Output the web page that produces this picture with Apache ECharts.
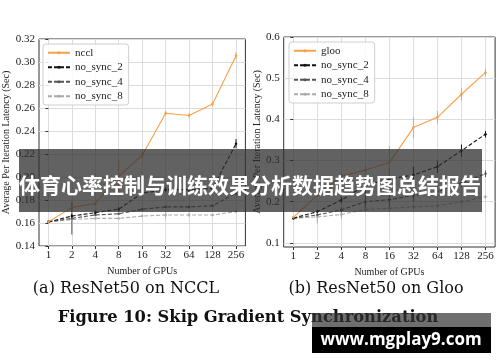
<!DOCTYPE html>
<html>
<head>
<meta charset="utf-8">
<script src="https://cdn.jsdelivr.net/npm/echarts@6/dist/echarts.min.js"></script>
<style>
html,body{margin:0;padding:0;background:#fff;}
#c{width:500px;height:362px;}
</style>
</head>
<body>
<div id="c"></div>
<script>
// ---- data ----
const gpuTicks = [1, 2, 4, 8, 16, 32, 64, 128, 256];
const ncclGpus = [1, 2, 4, 8, 16, 32, 64, 128, 256];
const ncclBase = [0.161, 0.1735, 0.177, 0.2005, 0.219, 0.2555, 0.2535, 0.2635, 0.3055];
const ncclNoSync2 = [0.161, 0.166, 0.169, 0.172, 0.186, 0.189, 0.189, 0.190, 0.229];
const ncclNoSync4 = [0.161, 0.164, 0.167, 0.168, 0.172, 0.174, 0.174, 0.175, 0.186];
const ncclNoSync8 = [0.161, 0.163, 0.164, 0.164, 0.166, 0.167, 0.167, 0.167, 0.170];
const ncclBaseErr = [0, 0.002, 0.002, 0.014, 0.003, 0.002, 0.002, 0.002, 0.003];
const ncclNoSync2Err = [0, 0.002, 0.002, 0.002, 0.002, 0.002, 0.002, 0.002, 0.004];
const ncclNoSync4Err = [0, 0.014, 0, 0, 0, 0, 0, 0, 0.002];
const ncclNoSync8Err = [0, 0, 0, 0, 0, 0.003, 0.002, 0, 0];

const glooGpus = [1, 2, 4, 8, 16, 32, 64, 128, 256];
const glooBase = [0.162, 0.216, 0.262, 0.277, 0.295, 0.380, 0.405, 0.461, 0.514];
const glooNoSync2 = [0.160, 0.176, 0.204, 0.240, 0.255, 0.265, 0.285, 0.324, 0.364];
const glooNoSync4 = [0.160, 0.168, 0.180, 0.200, 0.205, 0.215, 0.225, 0.245, 0.268];
const glooNoSync8 = [0.160, 0.163, 0.169, 0.181, 0.184, 0.1875, 0.190, 0.200, 0.212];
const glooBaseErr = [0, 0.003, 0.005, 0.010, 0.040, 0.026, 0.015, 0.016, 0.009];
const glooNoSync2Err = [0, 0.004, 0.008, 0.020, 0.025, 0.020, 0.015, 0.015, 0.008];
const glooNoSync4Err = [0, 0.003, 0.006, 0.015, 0.020, 0.015, 0.012, 0.010, 0.008];
const glooNoSync8Err = [0, 0.015, 0.010, 0.005, 0.005, 0.005, 0.005, 0.005, 0.004];

const leftYTicks = [0.14, 0.16, 0.18, 0.20, 0.22, 0.24, 0.26, 0.28, 0.30, 0.32];
const rightYTicks = [0.1, 0.2, 0.3, 0.4, 0.5, 0.6];

const seriesNamesLeft = ['nccl', 'no_sync_2', 'no_sync_4', 'no_sync_8'];
const seriesNamesRight = ['gloo', 'no_sync_2', 'no_sync_4', 'no_sync_8'];

// ---- styling ----
const SERIF = 'Liberation Serif';
const colors = ['#f9a04b', '#111111', '#555555', '#aaaaaa'];
const lineTypes = ['solid', [4, 2], [4, 2], [4, 2]];

function pts(gpus, vals) { return gpus.map((g, i) => [Math.log2(g), vals[i]]); }

function mkSeries(names, gpus, arrs, errs, idx) {
  const out = [];
  names.forEach((n, k) => {
    out.push({
      name: n, type: 'line', xAxisIndex: idx, yAxisIndex: idx,
      data: pts(gpus, arrs[k]),
      symbol: 'circle', symbolSize: 2.5, showSymbol: true,
      lineStyle: { color: colors[k], width: 1.1, type: lineTypes[k] },
      itemStyle: { color: colors[k] },
      z: 10 - k, animation: false
    });
    out.push({
      type: 'custom', xAxisIndex: idx, yAxisIndex: idx, z: 9 - k, silent: true,
      data: gpus.map((g, i) => [Math.log2(g), arrs[k][i] - errs[k][i], arrs[k][i] + errs[k][i]]).filter((d, i) => errs[k][i] > 0),
      renderItem: (params, api) => {
        const lo = api.coord([api.value(0), api.value(1)]);
        const hi = api.coord([api.value(0), api.value(2)]);
        return { type: 'line', shape: { x1: lo[0], y1: lo[1], x2: hi[0], y2: hi[1] }, style: { stroke: colors[k], lineWidth: 1 } };
      },
      encode: { x: 0, y: [1, 2] }
    });
  });
  return out;
}

const xTickVals = gpuTicks.map(g => Math.log2(g));

function xAxis(idx) {
  return {
    type: 'value', gridIndex: idx, min: -0.4, max: 8.4, minInterval: 1, maxInterval: 1,
    name: 'Number of GPUs', nameLocation: 'middle', nameGap: 11,
    nameTextStyle: { fontFamily: SERIF, fontSize: 10, color: '#222', verticalAlign: 'top' },
    axisLine: { show: false },
    axisTick: { show: true, inside: false, length: 3, customValues: xTickVals, lineStyle: { color: '#333' } },
    axisLabel: { customValues: xTickVals, formatter: v => String(Math.round(Math.pow(2, v))), fontFamily: SERIF, fontSize: 11, color: '#222', margin: 4 },
    splitLine: { show: true, lineStyle: { color: '#dcdcdc', width: 1 } }
  };
}

function yAxis(idx, min, max, ticks, fmt, nameGap) {
  return {
    type: 'value', gridIndex: idx, min: min, max: max,
    minInterval: ticks[1] - ticks[0], maxInterval: ticks[1] - ticks[0],
    name: 'Average Per Iteration Latency (Sec)', nameLocation: 'middle', nameGap: nameGap,
    nameTextStyle: { fontFamily: SERIF, fontSize: 10, color: '#222' },
    axisLine: { show: false },
    axisTick: { show: true, inside: false, length: 3, customValues: ticks, lineStyle: { color: '#333' } },
    axisLabel: { customValues: ticks, formatter: v => v.toFixed(fmt), fontFamily: SERIF, fontSize: 11, color: '#222', margin: 4 },
    splitLine: { show: true, lineStyle: { color: '#dcdcdc', width: 1 } }
  };
}

function legend(left, top, names) {
  return {
    left: left, top: top, orient: 'vertical',
    data: names,
    itemWidth: 22, itemHeight: 4, itemGap: 0,
    padding: [1.5, 6, 1.5, 4],
    backgroundColor: 'rgba(255,255,255,0.85)', borderColor: '#cfcfcf', borderWidth: 1, borderRadius: 3,
    textStyle: { fontFamily: SERIF, fontSize: 11, color: '#222', lineHeight: 14.5 },
    selectedMode: false
  };
}

const chart = echarts.init(document.getElementById('c'), null, { renderer: 'canvas' });
chart.setOption({
  animation: false,
  backgroundColor: '#ffffff',
  grid: [
    { left: 39, top: 39, width: 206.4, height: 207, show: true, borderColor: '#333', borderWidth: 1, backgroundColor: 'transparent' },
    { left: 283.7, top: 37, width: 211.4, height: 210, show: true, borderColor: '#333', borderWidth: 1, backgroundColor: 'transparent' }
  ],
  xAxis: [xAxis(0), xAxis(1)],
  yAxis: [yAxis(0, 0.14, 0.32, leftYTicks, 2, 24), yAxis(1, 0.09, 0.6, rightYTicks, 1, 19)],
  legend: [
    legend(43, 44, seriesNamesLeft),
    legend(289, 42, seriesNamesRight)
  ],
  series: [
    ...mkSeries(seriesNamesLeft, ncclGpus, [ncclBase, ncclNoSync2, ncclNoSync4, ncclNoSync8], [ncclBaseErr, ncclNoSync2Err, ncclNoSync4Err, ncclNoSync8Err], 0),
    ...mkSeries(seriesNamesRight, glooGpus, [glooBase, glooNoSync2, glooNoSync4, glooNoSync8], [glooBaseErr, glooNoSync2Err, glooNoSync4Err, glooNoSync8Err], 1)
  ],
  graphic: [
    { type: 'text', x: 126, y: 289, style: { text: '(a) ResNet50 on NCCL', font: '16px "DejaVu Serif"', fill: '#111', align: 'center', verticalAlign: 'middle' } },
    { type: 'text', x: 376, y: 289, style: { text: '(b) ResNet50 on Gloo', font: '16px "DejaVu Serif"', fill: '#111', align: 'center', verticalAlign: 'middle' } },
    { type: 'text', x: 248, y: 318, style: { text: 'Figure 10: Skip Gradient Synchronization', font: 'bold 16.3px "DejaVu Serif"', fill: '#111', align: 'center', verticalAlign: 'middle' } },
    { type: 'rect', shape: { x: 19, y: 149, width: 463, height: 63 }, style: { fill: 'rgba(45,45,45,0.75)' }, z: 100 },
    { type: 'text', x: 250, y: 185, style: { text: '体育心率控制与训练效果分析数据趋势图总结报告', font: 'bold 21px "Noto Sans CJK SC"', fill: '#fff', align: 'center', verticalAlign: 'middle' }, z: 101 },
    { type: 'rect', shape: { x: 312, y: 313, width: 179, height: 14 }, style: { fill: 'rgba(50,50,50,0.7)' }, z: 100 },
    { type: 'rect', shape: { x: 312, y: 327, width: 179, height: 26 }, style: { fill: '#000' }, z: 100 },
    { type: 'text', x: 401, y: 340, style: { text: 'www.mgplay9.com', font: 'bold 17px "Open Sans"', fill: '#fff', align: 'center', verticalAlign: 'middle' }, z: 101 }
  ]
});
</script>
</body>
</html>
